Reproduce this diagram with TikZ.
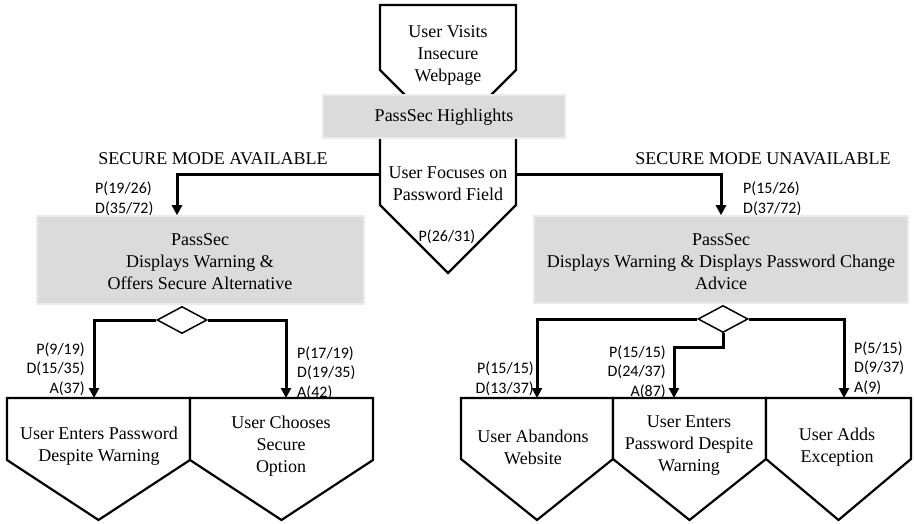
\documentclass[tikz,border=0pt]{standalone}
\usepackage{fontspec}
\setmainfont{Liberation Serif}
\newfontfamily\labfont{Carlito}
\usetikzlibrary{arrows.meta,shapes.geometric}
\begin{document}
\begin{tikzpicture}[x=1pt,y=-1pt,
  penta/.style={draw=black, line width=2.2pt, line join=miter, fill=white},
  graybox/.style={fill=black!14, draw=black!8, line width=1.5pt, inner sep=0pt},
  conn/.style={line width=3pt, -{Triangle[length=10pt,width=10pt]}},
  txt/.style={font=\fontsize{18}{22}\selectfont, align=center, inner sep=0pt},
  lbl/.style={font=\labfont\fontsize{16}{19.5}\selectfont, inner sep=0pt},
  dia/.style={diamond, draw=black, line width=1.5pt, fill=white, inner sep=0pt, minimum width=50pt, minimum height=27pt},
]
\useasboundingbox (0,0) rectangle (914,524);

% top pentagon and focus pentagon
\draw[penta] (380,5) -- (516,5) -- (516,70) -- (448,138) -- (380,70) -- cycle;
\draw[penta] (380,138) -- (380,205) -- (448,273) -- (516,205) -- (516,138);
\node[txt] (visit) at (448,55) {User Visits\\Insecure\\Webpage};
\node[txt] (focus) at (448,183.5) {User Focuses on\\Password Field};
\node[lbl] (p2631) at (447,237) {P(26/31)};
\node[graybox, minimum width=242pt, minimum height=43pt] (hl) at (444,116.5) {};
\node[txt] (hltxt) at (444,117) {PassSec Highlights};

% branch boxes
\node[graybox, minimum width=327pt, minimum height=88pt] (lbox) at (200.5,260) {};
\node[txt] (ltxt) at (200,262) {PassSec\\Displays Warning \&\\Offers Secure Alternative};
\node[graybox, minimum width=374pt, minimum height=87pt] (rbox) at (721,259.5) {};
\node[txt] (rtxt) at (721,262) {PassSec\\Displays Warning \& Displays Password Change\\Advice};

\coordinate (fl) at (380,175);
\coordinate (fr) at (516,175);
\draw[conn] (fl) -| ([xshift=-23.5pt]lbox.north);
\draw[conn] (fr) -| (rbox.north);

\node[txt] (sma) at (213,159) {SECURE MODE AVAILABLE};
\node[txt] (smu) at (763,159) {SECURE MODE UNAVAILABLE};
\node[lbl, align=left, anchor=west] (l1) at (95,199) {P(19/26)\\D(35/72)};
\node[lbl, align=left, anchor=west] (r1) at (743,199) {P(15/26)\\D(37/72)};

% bottom-left pentagons
\draw[penta] (7,398) -- (190,398) -- (190,460) -- (98.5,520) -- (7,460) -- cycle;
\draw[penta] (190,398) -- (373,398) -- (373,460) -- (281.5,520) -- (190,460) -- cycle;
\node[txt] (pa) at (99,446.5) {User Enters Password\\Despite Warning};
\node[txt] (pb) at (281,446) {User Chooses\\Secure\\Option};

% bottom-right pentagons
\draw[penta] (461,398) -- (613,398) -- (613,459) -- (537,520) -- (461,459) -- cycle;
\draw[penta] (613,398) -- (766,398) -- (766,459) -- (689.5,520) -- (613,459) -- cycle;
\draw[penta] (766,398) -- (911,398) -- (911,459) -- (838.5,520) -- (766,459) -- cycle;
\node[txt] (pc) at (533,447) {User Abandons\\Website};
\node[txt] (pd) at (689,446) {User Enters\\Password Despite\\Warning};
\node[txt] (pe) at (837,447) {User Adds\\Exception};

% decision diamonds
\node[dia] (dl) at (182,320) {};
\node[dia] (dr) at (723,319) {};
\coordinate (ta) at (94,398);
\coordinate (tb) at (286,398);
\coordinate (tc) at (537,398);
\coordinate (td) at (674,398);
\coordinate (te) at (844,398);
\draw[conn] (dl.west) -| (ta);
\draw[conn] (dl.east) -| (tb);
\draw[conn] (dr.west) -| (tc);
\draw[conn] (dr.east) -| (te);
\draw[conn] (dr.south) -- ++(0,14) -| (td);

\node[lbl, align=right, anchor=east] (la) at (85,369) {P(9/19)\\D(15/35)\\A(37)};
\node[lbl, align=left, anchor=west] (lb) at (297,373) {P(17/19)\\D(19/35)\\A(42)};
\node[lbl, align=right, anchor=east] (lc) at (534,379) {P(15/15)\\D(13/37)};
\node[lbl, align=right, anchor=east] (ld) at (666,372) {P(15/15)\\D(24/37)\\A(87)};
\node[lbl, align=left, anchor=west] (le) at (854,368) {P(5/15)\\D(9/37)\\A(9)};
\end{tikzpicture}
\end{document}
